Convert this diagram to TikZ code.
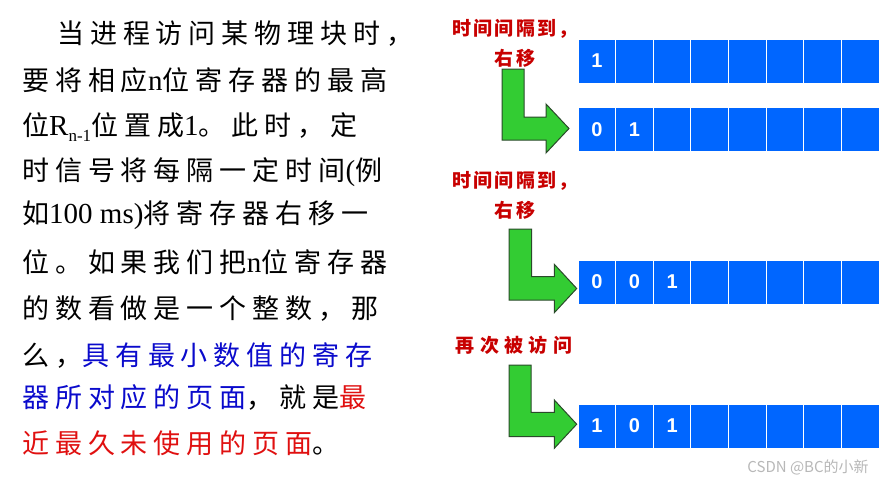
\documentclass[tikz,border=0pt]{standalone}
\usepackage{fontspec}
\newfontfamily\bodyfont[LetterSpace=22]{Noto Sans CJK SC}
\newfontfamily\latfont{Liberation Serif}
\newfontfamily\labfont[LetterSpace=12]{Noto Sans CJK SC}
\newfontfamily\labfontb[LetterSpace=28]{Noto Sans CJK SC}
\newfontfamily\wmfont{Noto Sans CJK SC}
\newfontfamily\digfont{Liberation Sans}
\definecolor{regblue}{HTML}{0066FF}
\definecolor{agreen}{HTML}{33CC33}
\definecolor{aedge}{HTML}{2A4A2A}
\definecolor{labred}{HTML}{C80000}
\definecolor{txtblue}{HTML}{0A0ACC}
\definecolor{txtred}{HTML}{E01010}
\newcommand{\lt}[1]{{\latfont\fontsize{29}{30}\selectfont #1}}
\begin{document}
\begin{tikzpicture}[x=1pt,y=-1pt,
  body/.style={anchor=base west, inner sep=0pt, font=\bodyfont\fontsize{27}{30}\selectfont},
  cell/.style={draw=white, line width=1pt, fill=regblue, minimum width=37.625pt, minimum height=44pt, inner sep=0pt},
  dig/.style={inner sep=0pt, text=white, font=\digfont\bfseries\fontsize{20}{20}\selectfont},
  lab/.style={inner sep=0pt, align=center, text=labred, font=\labfont\bfseries\fontsize{19}{30}\selectfont},
  labb/.style={inner sep=0pt, text=labred, font=\labfontb\bfseries\fontsize{19}{30}\selectfont},
  garrow/.style={fill=agreen, draw=aedge, line width=1pt, line join=miter}]
\useasboundingbox (0,0) rectangle (880,482);
\fill[white] (0,0) rectangle (880,482);
% left text
\node[body] (l1) at (57,43.5) {当进程访问某物理块时，};
\node[body] (l2) at (22,90.5) {要将相应\lt{n}位寄存器的最高};
\node[body] (l3) at (22,135.5) {位\lt{R\raisebox{-6pt}{\fontsize{17}{17}\selectfont n-1}}位置成\lt{1}。此时，定};
\node[body] (l4) at (22,180.5) {时信号将每隔一定时间\lt{(}例};
\node[body] (l5) at (22,223.5) {如\lt{100 ms)}将寄存器右移一};
\node[body] (l6) at (22,272.5) {位。如果我们把\lt{n}位寄存器};
\node[body] (l7) at (22,318.5) {的数看做是一个整数，那};
\node[body] (l8) at (22,365.5) {么，\textcolor{txtblue}{具有最小数值的寄存}};
\node[body] (l9) at (22,407.5) {\textcolor{txtblue}{器所对应的页面}，就是\textcolor{txtred}{最}};
\node[body] (l10) at (22,453.5) {\textcolor{txtred}{近最久未使用的页面}。};
% registers
\foreach \r/\y in {1/61,2/129.5,3/282,4/426}
  \foreach \c in {1,...,8}
    \node[cell] (r\r c\c) at ({578+37.625*(\c-0.5)},\y) {};
\node[dig] (d11) at (r1c1) {1};
\node[dig] (d21) at (r2c1) {0};
\node[dig] (d22) at (r2c2) {1};
\node[dig] (d31) at (r3c1) {0};
\node[dig] (d32) at (r3c2) {0};
\node[dig] (d33) at (r3c3) {1};
\node[dig] (d41) at (r4c1) {1};
\node[dig] (d42) at (r4c2) {0};
\node[dig] (d43) at (r4c3) {1};
% labels
\node[lab] (t1) at (515,43) {时间间隔到，\\右移};
\node[lab] (t2) at (515,195) {时间间隔到，\\右移};
\node[labb] (t3) at (514,345) {再次被访问};
% green arrows
\draw[garrow] (502,69) -- (524,69) -- (524,117) -- (546,117) -- (546,104) -- (569,128.5) -- (546,153) -- (546,140) -- (502,140) -- cycle;
\draw[garrow] (509,229) -- (531.5,229) -- (531.5,276.5) -- (554.3,276.5) -- (554.3,264.3) -- (576.7,288.5) -- (554.3,312.7) -- (554.3,300) -- (509,300) -- cycle;
\draw[garrow] (509,365) -- (531,365) -- (531,412.3) -- (554.3,412.3) -- (554.3,400) -- (576.7,424.2) -- (554.3,448.3) -- (554.3,436.7) -- (509,436.7) -- cycle;
% watermark
\node[inner sep=0pt, text=black!28, font=\wmfont\fontsize{15}{15}\selectfont] (wm) at (808,467) {CSDN @BC的小新};
\end{tikzpicture}
\end{document}
